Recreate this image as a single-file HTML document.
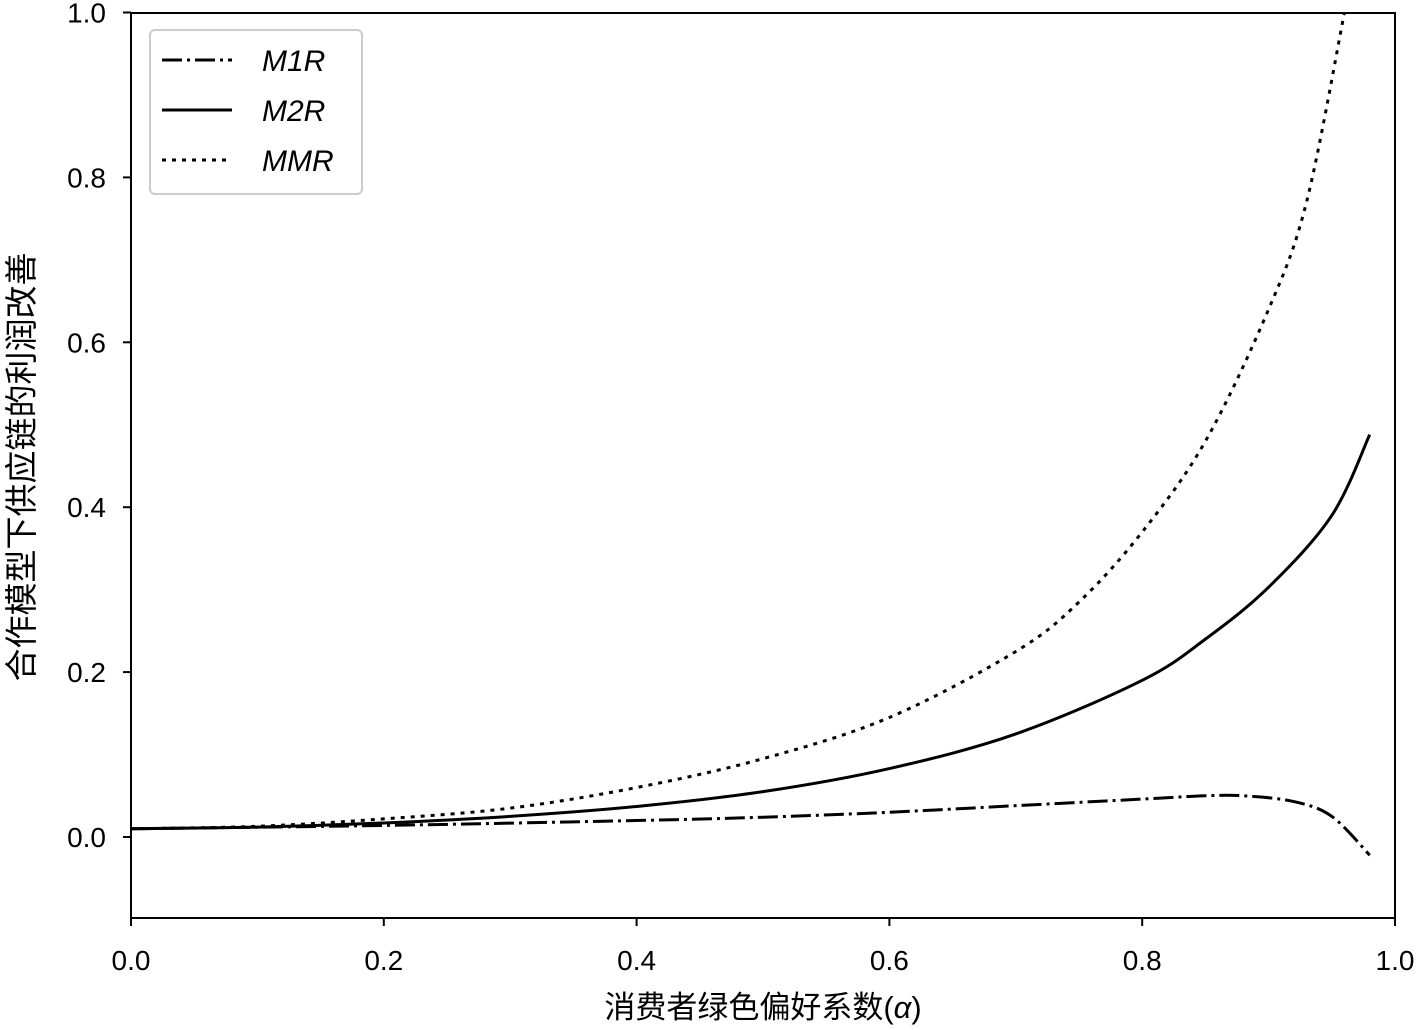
<!DOCTYPE html>
<html><head><meta charset="utf-8"><style>
body{margin:0;background:#fff;}
svg text{font-family:"Liberation Sans","Noto Sans CJK SC",sans-serif;fill:#000;}
</style></head><body>
<svg id="s" width="1417" height="1025" viewBox="0 0 1417 1025" xmlns="http://www.w3.org/2000/svg">
<rect x="0" y="0" width="1417" height="1025" fill="#fff"/>
<g id="curves" fill="none" stroke="#000" stroke-width="3"></g>
<rect x="131" y="13" width="1264" height="905" fill="none" stroke="#000" stroke-width="2"/>
<g id="ticks" stroke="#000" stroke-width="2"></g>
<g id="labels" font-size="28"></g>
<text x="763" y="1018" font-size="31" text-anchor="middle">消费者绿色偏好系数(<tspan font-style="italic">α</tspan>)</text>
<text transform="translate(33,467) rotate(-90)" font-size="33" text-anchor="middle">合作模型下供应链的利润改善</text>
<rect x="150" y="30" width="212" height="164" rx="5" fill="#fff" stroke="#ccc" stroke-width="2"/>
<line x1="162" y1="60" x2="232" y2="60" stroke="#000" stroke-width="3" stroke-dasharray="20,5,3,5"/>
<line x1="162" y1="110" x2="232" y2="110" stroke="#000" stroke-width="3"/>
<line x1="162" y1="160" x2="232" y2="160" stroke="#000" stroke-width="3" stroke-dasharray="4,6"/>
<g font-size="30" font-style="italic">
<text x="262" y="71">M1R</text><text x="262" y="121">M2R</text><text x="262" y="171">MMR</text>
</g>
</svg>
<script>
var X=function(v){return 131+1264*v},Y=function(v){return 837-824.5*v};
var ns="http://www.w3.org/2000/svg";
function smooth(pts){var p=pts.map(function(a){return[X(a[0]),Y(a[1])]});var d="M"+p[0][0]+","+p[0][1];
for(var i=0;i<p.length-1;i++){var p0=p[Math.max(i-1,0)],p1=p[i],p2=p[i+1],p3=p[Math.min(i+2,p.length-1)];
d+=" C"+(p1[0]+(p2[0]-p0[0])/6)+","+(p1[1]+(p2[1]-p0[1])/6)+" "+(p2[0]-(p3[0]-p1[0])/6)+","+(p2[1]-(p3[1]-p1[1])/6)+" "+p2[0]+","+p2[1];}return d;}
var c=document.getElementById("curves");
function add(pts,dash){var e=document.createElementNS(ns,"path");e.setAttribute("d",smooth(pts));if(dash)e.setAttribute("stroke-dasharray",dash);c.appendChild(e);}
add([[0,0.01],[0.2,0.014],[0.4,0.02],[0.5,0.024],[0.6,0.03],[0.7,0.038],[0.8,0.046],[0.85,0.05],[0.88,0.05],[0.92,0.043],[0.95,0.025],[0.98,-0.022]],"20,5,3,5");
add([[0,0.01],[0.1,0.012],[0.2,0.017],[0.3,0.025],[0.4,0.037],[0.5,0.055],[0.6,0.083],[0.7,0.125],[0.8,0.19],[0.85,0.24],[0.9,0.303],[0.95,0.39],[0.98,0.488]]);
add([[0,0.01],[0.1,0.013],[0.2,0.022],[0.3,0.035],[0.4,0.06],[0.5,0.095],[0.6,0.145],[0.7,0.225],[0.75,0.285],[0.8,0.37],[0.85,0.48],[0.9,0.64],[0.93,0.77],[0.96,1.0]],"4,6");
var t=document.getElementById("ticks"),l=document.getElementById("labels");
for(var i=0;i<=5;i++){var v=i*0.2,x=X(v),y=Y(v);
t.innerHTML+='<line x1="'+x+'" y1="918" x2="'+x+'" y2="926"/><line x1="123" y1="'+y+'" x2="131" y2="'+y+'"/>';
l.innerHTML+='<text x="'+x+'" y="970" text-anchor="middle">'+v.toFixed(1)+'</text><text x="106" y="'+(y+10)+'" text-anchor="end">'+v.toFixed(1)+'</text>';}
</script>
</body></html>
